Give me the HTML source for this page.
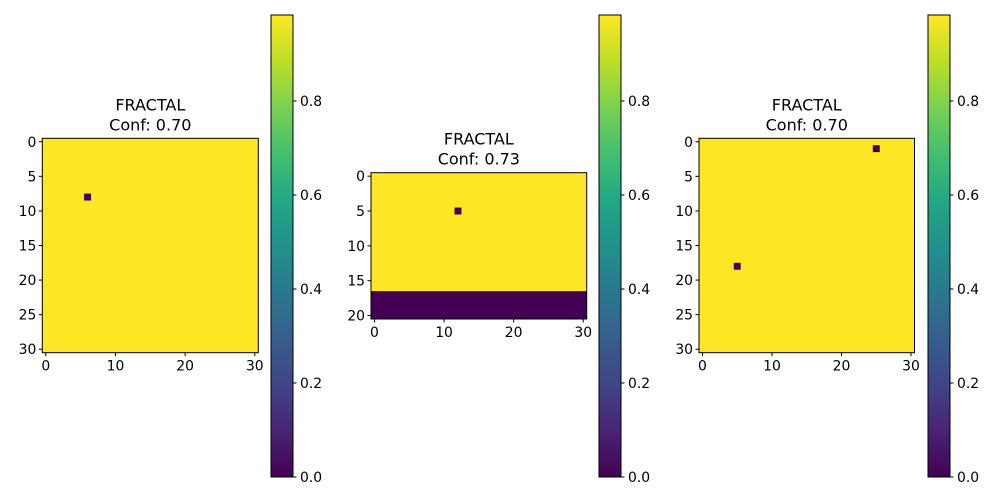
<!DOCTYPE html>
<html><head><meta charset="utf-8"><style>
body{margin:0;background:#fff}
svg{display:block;font-family:"DejaVu Sans","Liberation Sans",sans-serif}
</style></head><body>
<svg id="chart" width="1000" height="500" viewBox="0 0 1000 500">
<defs>
<linearGradient id="viridis" x1="0" y1="1" x2="0" y2="0">
<stop offset="0" stop-color="#440154"/><stop offset="0.1" stop-color="#482475"/>
<stop offset="0.2" stop-color="#414487"/><stop offset="0.3" stop-color="#355f8d"/>
<stop offset="0.4" stop-color="#2a788e"/><stop offset="0.5" stop-color="#21918c"/>
<stop offset="0.6" stop-color="#22a884"/><stop offset="0.7" stop-color="#44bf70"/>
<stop offset="0.8" stop-color="#7ad151"/><stop offset="0.9" stop-color="#bddf26"/>
<stop offset="1" stop-color="#fde725"/>
</linearGradient>
</defs>
</svg>
<script>
const titles = ["FRACTAL\nConf: 0.70","FRACTAL\nConf: 0.73","FRACTAL\nConf: 0.70"];
const gridCols = [31,31,31];
const gridRows = [31,21,31];
const lowCells = [[[6,8]],[[12,5]],[[25,1],[5,18]]];
const lowRowStart = [null,17,null];
const xTicks = [0,10,20,30];
const yTicks1 = [0,5,10,15,20,25,30];
const yTicks2 = [0,5,10,15,20];
const cbTicks = [0.0,0.2,0.4,0.6,0.8];
const cbMax = 0.983;

const NS="http://www.w3.org/2000/svg";
const svg=document.getElementById('chart');
function mk(t,a,p){const e=document.createElementNS(NS,t);for(const k in a)e.setAttribute(k,a[k]);(p||svg).appendChild(e);return e;}
const panels=[{x:42.3,y:138.3,w:216,h:214.4,cb:271},{x:371,y:172.7,w:215.7,h:146.3,cb:599},{x:699,y:138.3,w:215.5,h:214.4,cb:928}];
const yTickSets=[yTicks1,yTicks2,yTicks1];
panels.forEach((p,i)=>{
  const g=mk('g',{});
  
  
  const cw=p.w/gridCols[i], ch=p.h/gridRows[i];
  const sx=v=>p.x+(v+0.5)*cw, sy=v=>p.y+(v+0.5)*ch;
  const bg=mk('rect',{x:p.x,y:p.y,width:p.w,height:p.h,fill:'#fde725'},g);
  
  
  if(lowRowStart[i]!==null){
    const r=mk('rect',{x:p.x,y:p.y+lowRowStart[i]*ch,width:p.w,height:(gridRows[i]-lowRowStart[i])*ch,fill:'#440154'},g);
    
    
  }
  lowCells[i].forEach(c=>{
    const r=mk('rect',{x:p.x+c[0]*cw,y:p.y+c[1]*ch,width:cw,height:ch,fill:'#440154'},g);
    
    
  });
  mk('rect',{x:p.x,y:p.y,width:p.w,height:p.h,fill:'none',stroke:'#000','stroke-width':1},g);
  xTicks.forEach(t=>{
    mk('line',{x1:sx(t),x2:sx(t),y1:p.y+p.h,y2:p.y+p.h+3.5,stroke:'#000'},g);
    const tx=mk('text',{x:sx(t),y:p.y+p.h+18,'text-anchor':'middle','font-size':13.9},g);tx.textContent=t;
    
    
  });
  yTickSets[i].forEach(t=>{
    mk('line',{x1:p.x,x2:p.x-3.5,y1:sy(t),y2:sy(t),stroke:'#000'},g);
    const tx=mk('text',{x:p.x-6,y:sy(t)+5,'text-anchor':'end','font-size':13.9},g);tx.textContent=t;
    
    
  });
  const lines=titles[i].split('\n');
  lines.forEach((l,k)=>{
    const tx=mk('text',{x:p.x+p.w/2,y:p.y-28+k*20,'text-anchor':'middle','font-size':16},g);tx.textContent=l;
    
    
  });
  const cy0=15, cy1=477, cbw=22;
  const cb=mk('rect',{x:p.cb,y:cy0,width:cbw,height:cy1-cy0,fill:'url(#viridis)',stroke:'#000','stroke-width':1},g);
  
  
  const cv=v=>cy1-(v/cbMax)*(cy1-cy0);
  cbTicks.forEach(t=>{
    mk('line',{x1:p.cb+cbw,x2:p.cb+cbw+3.5,y1:cv(t),y2:cv(t),stroke:'#000'},g);
    const tx=mk('text',{x:p.cb+cbw+7,y:cv(t)+5,'font-size':13.9},g);tx.textContent=t.toFixed(1);
    
    
  });
});
</script>
</body></html>
